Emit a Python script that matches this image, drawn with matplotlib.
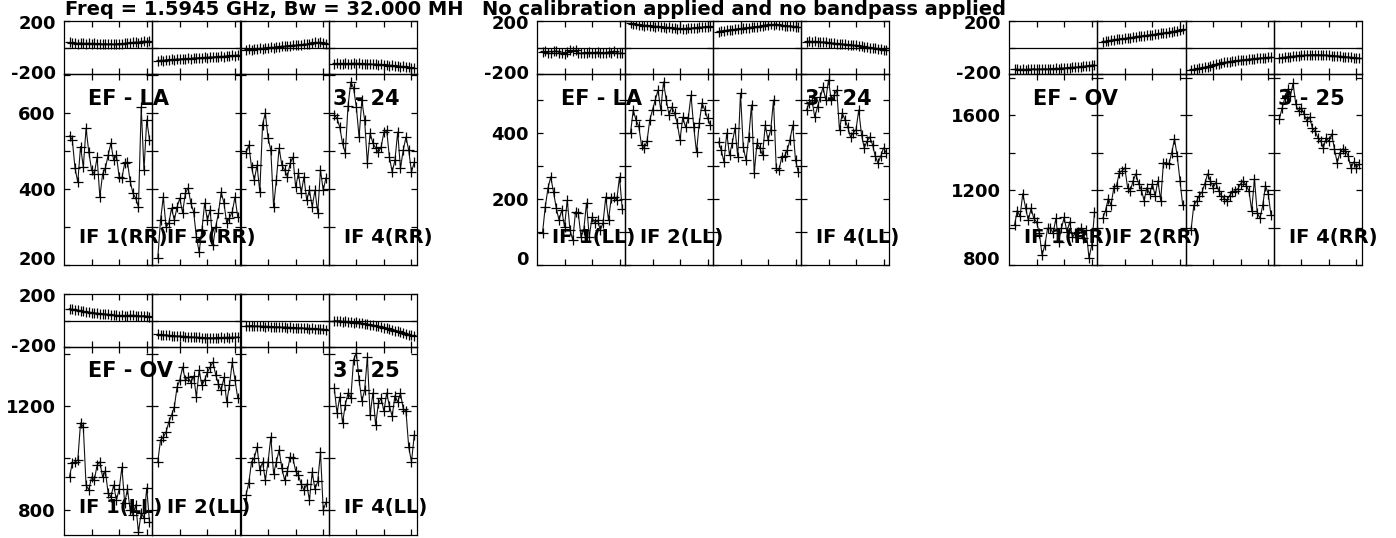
import numpy as np
import matplotlib
matplotlib.use('Agg')
import matplotlib.pyplot as plt

plt.rcParams['font.family'] = ['DejaVu Sans']
plt.rcParams['font.weight'] = 'bold'

W, H = 1396, 538

channels = np.arange(4, 64, 2)

# ---- EF - LA, scan 3 - 24, RR ----
la24_rr_amp = [
    [540, 530, 455, 418, 512, 458, 560, 497, 450, 440, 484, 379, 440, 455, 489,
     521, 476, 489, 432, 429, 468, 471, 420, 389, 376, 353, 616, 450, 582, 530],
    [218, 318, 379, 300, 310, 350, 318, 353, 376, 337, 389, 403, 363, 340, 274,
     234, 292, 363, 318, 345, 253, 300, 337, 392, 363, 310, 324, 340, 379, 326],
    [495, 516, 458, 424, 463, 392, 570, 600, 534, 502, 353, 424, 508, 463, 450,
     432, 468, 484, 405, 442, 389, 432, 371, 397, 353, 397, 337, 450, 397, 430],
    [595, 586, 563, 520, 495, 620, 682, 666, 616, 537, 634, 582, 468, 547, 521,
     508, 497, 511, 550, 555, 484, 445, 476, 550, 455, 502, 537, 502, 445, 470],
]
la24_rr_phs = [
    [38, 33, 36, 30, 34, 31, 29, 33, 28, 31, 27, 30, 26, 29, 25,
     28, 24, 27, 30, 26, 31, 35, 32, 38, 41, 37, 44, 48, 45, 50],
    [-102, -96, -99, -93, -95, -90, -92, -87, -89, -84, -86, -82, -84, -79, -81,
     -77, -79, -74, -76, -71, -73, -69, -70, -66, -68, -63, -64, -60, -61, -57],
    [-20, -15, -17, -10, -12, -6, -8, -2, -4, 2, 0, 6, 4, 10, 8,
     14, 12, 18, 16, 22, 20, 26, 24, 30, 34, 38, 36, 40, 32, 26],
    [-124, -120, -126, -122, -119, -125, -121, -118, -123, -120, -124, -121, -126, -123, -128,
     -125, -130, -127, -133, -130, -136, -134, -140, -138, -144, -142, -148, -150, -153, -157],
]

# ---- EF - LA, scan 3 - 24, LL ----
la24_ll_amp = [
    [97, 176, 233, 267, 221, 173, 136, 167, 115, 197, 106, 76, 161, 158, 85,
     106, 188, 85, 145, 127, 136, 106, 127, 206, 136, 203, 206, 197, 267, 170],
    [400, 470, 439, 420, 364, 355, 375, 439, 470, 500, 530, 470, 555, 500, 455,
     479, 461, 430, 379, 448, 418, 445, 515, 418, 342, 430, 491, 470, 445, 425],
    [373, 348, 312, 400, 333, 370, 415, 327, 521, 358, 318, 388, 485, 279, 370,
     355, 333, 424, 379, 410, 500, 294, 288, 327, 330, 348, 380, 424, 318, 282],
    [470, 491, 500, 448, 480, 509, 539, 500, 561, 500, 515, 530, 409, 461, 440,
     418, 388, 400, 410, 470, 395, 355, 375, 388, 365, 330, 309, 330, 355, 340],
]
la24_ll_phs = [
    [-35, -28, -40, -45, -30, -25, -38, -42, -48, -35, -22, -30, -20, -40, -45,
     -38, -42, -36, -44, -40, -35, -42, -38, -45, -32, -40, -25, -38, -45, -40],
    [182, 175, 178, 170, 172, 166, 168, 162, 164, 158, 160, 154, 156, 150, 152,
     146, 148, 142, 145, 140, 143, 147, 144, 150, 148, 154, 152, 158, 156, 160],
    [120, 126, 122, 130, 134, 130, 138, 142, 140, 146, 150, 148, 154, 158, 156,
     162, 166, 170, 168, 174, 172, 176, 170, 168, 165, 162, 164, 160, 158, 157],
    [44, 48, 42, 46, 40, 44, 38, 42, 36, 32, 34, 28, 30, 24, 26,
     20, 22, 16, 18, 12, 10, 6, 4, 0, -2, -6, -10, -12, -16, -19],
]

# ---- EF - OV, scan 3 - 25, RR ----
ov25_rr_amp = [
    [1012, 1091, 1060, 1181, 1107, 1038, 1102, 1049, 1030, 970, 853, 906, 996, 996, 970,
     1049, 922, 996, 1054, 975, 1030, 948, 970, 975, 996, 943, 985, 837, 906, 1081],
    [1049, 1091, 1155, 1120, 1213, 1224, 1293, 1303, 1319, 1213, 1197, 1250, 1287, 1234, 1200,
     1144, 1213, 1180, 1234, 1170, 1250, 1144, 1346, 1346, 1340, 1399, 1473, 1383, 1250, 1118],
    [985, 1118, 1140, 1171, 1190, 1234, 1287, 1250, 1213, 1240, 1197, 1171, 1155, 1144, 1171,
     1190, 1197, 1207, 1234, 1250, 1224, 1197, 1091, 1260, 1080, 1049, 1118, 1224, 1180, 1065],
    [1578, 1637, 1690, 1738, 1700, 1770, 1658, 1621, 1640, 1605, 1568, 1590, 1531, 1515, 1480,
     1462, 1425, 1480, 1460, 1499, 1420, 1346, 1400, 1420, 1410, 1383, 1319, 1350, 1320, 1340],
]
ov25_rr_phs = [
    [-166, -162, -168, -164, -167, -163, -165, -161, -166, -162, -164, -160, -163, -159, -161,
     -157, -159, -155, -156, -152, -153, -149, -150, -146, -146, -142, -140, -136, -134, -130],
    [42, 48, 50, 55, 56, 61, 63, 67, 68, 73, 74, 78, 80, 84, 85,
     89, 91, 95, 96, 100, 102, 106, 108, 112, 114, 118, 121, 125, 130, 136],
    [-172, -166, -163, -158, -154, -148, -144, -138, -134, -128, -124, -118, -113, -110, -106,
     -104, -100, -98, -96, -93, -91, -88, -86, -84, -82, -80, -78, -77, -75, -74],
    [-80, -76, -73, -70, -68, -66, -64, -62, -60, -59, -57, -56, -55, -54, -55,
     -56, -57, -58, -60, -61, -62, -64, -66, -68, -70, -72, -74, -76, -78, -80],
]

# ---- EF - OV, scan 3 - 25, LL ----
ov25_ll_amp = [
    [927, 981, 985, 992, 1135, 1120, 896, 877, 927, 915, 973, 985, 927, 950, 865,
     850, 896, 838, 880, 965, 827, 880, 800, 781, 820, 715, 790, 769, 885, 754],
    [985, 1069, 1080, 1100, 1138, 1165, 1196, 1273, 1300, 1350, 1300, 1310, 1290, 1315, 1235,
     1338, 1280, 1300, 1330, 1350, 1369, 1320, 1285, 1260, 1310, 1215, 1280, 1369, 1300, 1231],
    [858, 904, 985, 1000, 1042, 954, 985, 915, 985, 1081, 940, 985, 1031, 960, 915,
     950, 1004, 1000, 950, 935, 900, 877, 900, 838, 946, 880, 910, 1023, 800, 830],
    [1269, 1173, 1235, 1135, 1204, 1250, 1230, 1377, 1404, 1300, 1220, 1260, 1388, 1165, 1250,
     1127, 1210, 1230, 1180, 1250, 1200, 1160, 1240, 1215, 1250, 1190, 1180, 1042, 985, 1088],
]
ov25_ll_phs = [
    [90, 84, 82, 76, 72, 68, 65, 62, 60, 57, 55, 52, 50, 48, 46,
     42, 40, 38, 36, 38, 34, 36, 40, 38, 35, 37, 33, 36, 32, 30],
    [-104, -108, -106, -110, -112, -115, -114, -118, -117, -120, -122, -124, -123, -126, -128,
     -127, -130, -129, -131, -130, -132, -129, -131, -128, -130, -127, -129, -126, -128, -125],
    [-40, -42, -38, -44, -41, -45, -43, -47, -44, -48, -46, -50, -47, -52, -49,
     -53, -51, -55, -53, -57, -55, -59, -58, -62, -60, -64, -63, -67, -66, -70],
    [0, -4, -2, -8, -6, -12, -10, -16, -15, -20, -22, -26, -28, -32, -36,
     -40, -44, -50, -54, -60, -65, -70, -76, -82, -88, -94, -100, -106, -112, -118],
]

# panel groups: left, right, phase top, amp top, amp bottom (pixels)
groups = [
    dict(box=(64, 417, 21, 74, 265), base='EF - LA', scan='3 - 24', pol='RR',
         amp=la24_rr_amp, phs=la24_rr_phs, ylim=(200, 703),
         major=[200, 400, 600], minor=[300, 500, 700]),
    dict(box=(537, 889, 21, 74, 265), base='EF - LA', scan='3 - 24', pol='LL',
         amp=la24_ll_amp, phs=la24_ll_phs, ylim=(0, 579),
         major=[0, 200, 400], minor=[100, 300, 500]),
    dict(box=(1009, 1362, 21, 74, 265), base='EF - OV', scan='3 - 25', pol='RR',
         amp=ov25_rr_amp, phs=ov25_rr_phs, ylim=(800, 1820),
         major=[800, 1200, 1600], minor=[1000, 1400, 1800]),
    dict(box=(64, 417, 294, 347, 535), base='EF - OV', scan='3 - 25', pol='LL',
         amp=ov25_ll_amp, phs=ov25_ll_phs, ylim=(704, 1427),
         major=[800, 1200], minor=[1000, 1400]),
]
if_shown = [1, 2, None, 4]

fig = plt.figure(figsize=(W / 100, H / 100), dpi=100, facecolor='white')


def px_axes(left, top, width, height):
    ax = fig.add_axes([left / W, 1 - (top + height) / H, width / W, height / H])
    ax.set_facecolor('none')
    for sp in ax.spines.values():
        sp.set_linewidth(0.9)
    ax.tick_params(direction='in', top=True, right=True, length=4, width=0.9,
                   labelsize=13, pad=6)
    ax.set_xlim(0, 64)
    ax.set_xticks([20, 40, 60])
    ax.tick_params(labelbottom=False)
    return ax


def draw(ax, y):
    ax.plot(channels, y, '-', color='#111111', lw=0.8, marker='+', ms=7,
            mew=0.9, mec='black', zorder=2)


def side_label(ax, value, text, dy=0):
    ax.annotate(text, xy=(0, value), xycoords=('axes fraction', 'data'),
                xytext=(-6, dy), textcoords='offset points',
                ha='right', va='center', fontsize=13, fontweight='bold')


for g in groups:
    x0, x1, tp, ta, tb = g['box']
    sw = (x1 - x0) / 4
    for i in range(4):
        # phase strip
        axp = px_axes(x0 + i * sw, tp, sw, ta - tp)
        axp.set_ylim(-200, 200)
        axp.axhline(0, color='black', lw=0.9)
        axp.set_yticks([-200, 0, 200])
        axp.tick_params(labelleft=False)
        draw(axp, g['phs'][i])
        if i == 0:
            side_label(axp, 200, '200', dy=-2.5)
            side_label(axp, -200, '-200')

        # amplitude panel
        axa = px_axes(x0 + i * sw, ta, sw, tb - ta)
        axa.set_ylim(*g['ylim'])
        ticks = sorted(g['major'] + g['minor'])
        if i == 0:
            labels = [str(t) if t in g['major'] else '' for t in ticks]
            axa.set_yticks(ticks, labels)
            yt = axa.yaxis.get_major_ticks()
            if ticks[0] == g['ylim'][0]:
                yt[0].label1.set_verticalalignment('baseline')
            axa.text(0.27, 0.87, g['base'], transform=axa.transAxes,
                     fontsize=15, fontweight='bold', va='center', zorder=1)
        else:
            axa.set_yticks(ticks)
            axa.tick_params(labelleft=False)
        if i == 3:
            axa.text(0.05, 0.87, g['scan'], transform=axa.transAxes,
                     fontsize=15, fontweight='bold', va='center', zorder=1)
        if if_shown[i] is not None:
            axa.text(0.17, 0.145, 'IF %d(%s)' % (if_shown[i], g['pol']),
                     transform=axa.transAxes, fontsize=14, fontweight='bold',
                     va='center', zorder=1)
        draw(axa, g['amp'][i])

fig.text(65 / W, 1 - 15 / H, 'Freq = 1.5945 GHz, Bw = 32.000 MH',
         fontsize=14, fontweight='bold', va='baseline')
fig.text(482 / W, 1 - 15 / H, 'No calibration applied and no bandpass applied',
         fontsize=14, fontweight='bold', va='baseline')

fig.savefig('out.png', dpi=100, facecolor='white')
